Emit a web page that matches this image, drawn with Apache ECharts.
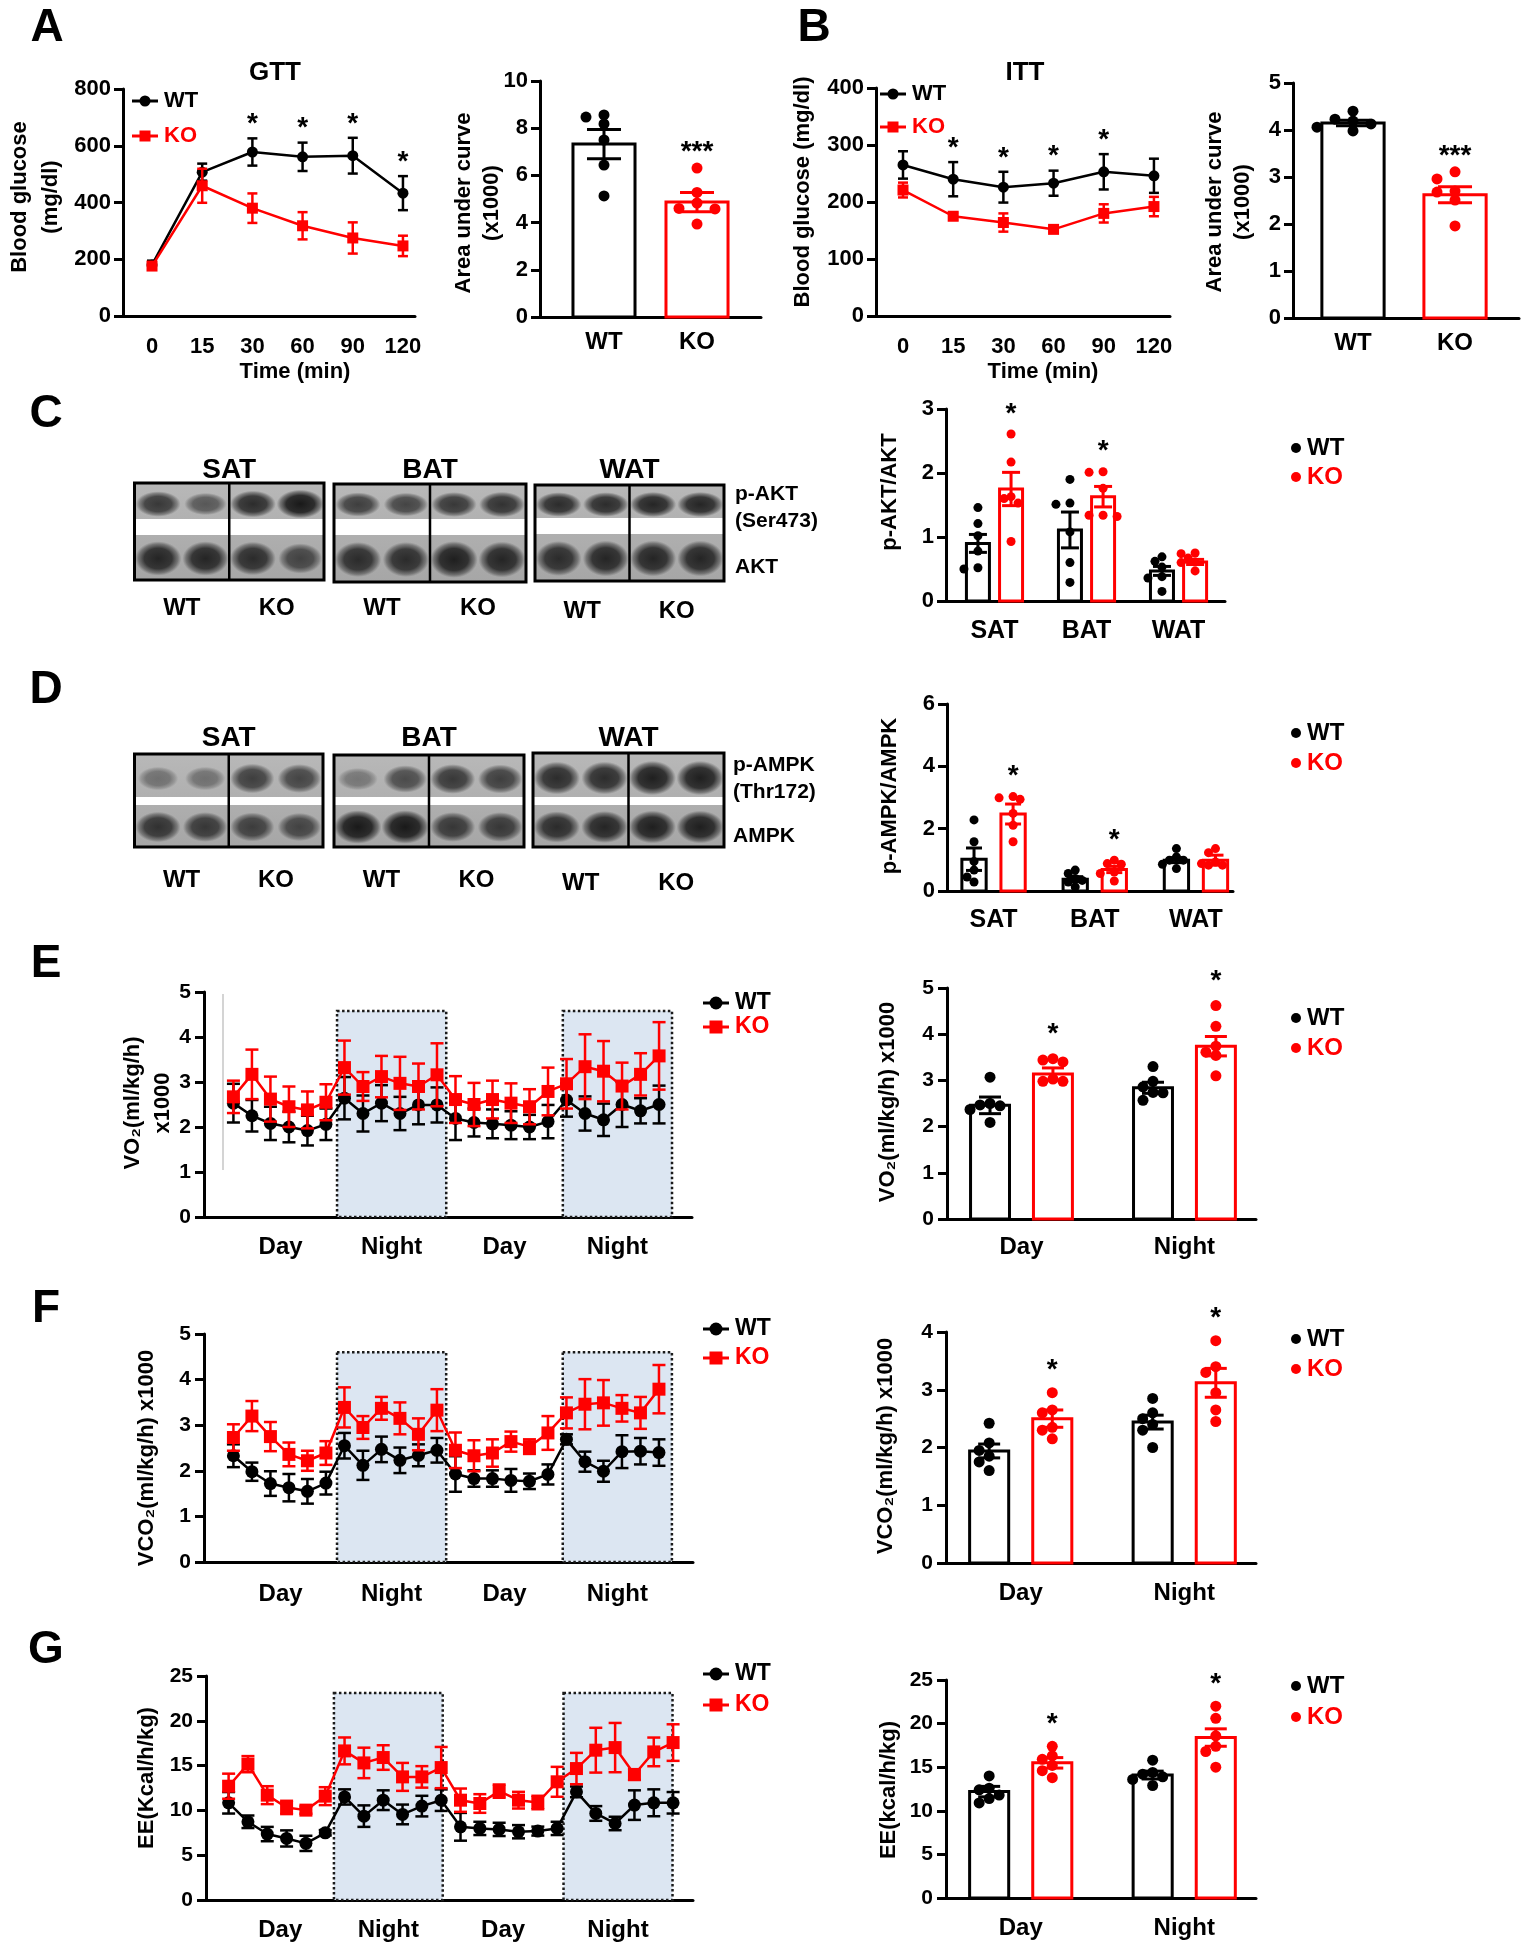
<!DOCTYPE html>
<html>
<head>
<meta charset="utf-8">
<script src="https://cdn.jsdelivr.net/npm/echarts@6/dist/echarts.min.js"></script>
<style>
html, body { margin: 0; padding: 0; background: #fff; }
#chart { width: 1528px; height: 1950px; }
</style>
</head>
<body>
<div id="chart"></div>
<script>
// ---------------- data ----------------
// A: GTT
var timeLabels = ['0', '15', '30', '60', '90', '120'];
var gttWT = [180, 507, 578, 561, 565, 433];
var gttWTsem = [15, 30, 48, 50, 63, 60];
var gttKO = [176, 459, 380, 318, 275, 247];
var gttKOsem = [12, 60, 52, 48, 55, 36];
var gttSig = ['', '', '*', '*', '*', '*'];
var gttAucWT = [8.47, 8.56, 8.18, 7.5, 6.44, 5.13];
var gttAucKO = [6.31, 5.28, 4.83, 4.58, 4.6, 3.94];
var gttAucMean = [7.33, 4.87];
var gttAucSem = [0.62, 0.41];

// B: ITT
var ittWT = [265, 240, 226, 233, 253, 246];
var ittWTsem = [24, 30, 27, 22, 31, 30];
var ittKO = [221, 175, 164, 152, 180, 192];
var ittKOsem = [13, 6, 16, 4, 16, 17];
var ittSig = ['', '*', '*', '*', '*', ''];
var ittAucWT = [4.19, 3.98, 4.23, 4.40, 4.06, 4.13];
var ittAucKO = [3.11, 2.96, 2.70, 2.68, 2.51, 1.96];
var ittAucMean = [4.15, 2.62];
var ittAucSem = [0.06, 0.17];

// C: p-AKT/AKT
var tissues = ['SAT', 'BAT', 'WAT'];
var aktWTmean = [0.90, 1.11, 0.47];
var aktWTsem = [0.14, 0.28, 0.07];
var aktKOmean = [1.75, 1.63, 0.61];
var aktKOsem = [0.26, 0.16, 0.04];
var aktWTpts = [[1.46, 1.21, 1.02, 0.78, 0.50, 0.52], [1.90, 1.53, 1.51, 1.08, 0.60, 0.29], [0.62, 0.69, 0.53, 0.38, 0.36, 0.15]];
var aktKOpts = [[2.61, 2.17, 1.63, 1.53, 0.93, 1.60], [2.01, 2.02, 1.76, 1.32, 1.34, 1.34], [0.74, 0.75, 0.67, 0.61, 0.60, 0.47]];
var aktSig = ['*', '*', ''];
// blot band intensity (0-1), lanes WT WT KO KO
var aktBlotTop = [[0.75, 0.5, 0.85, 1.0], [0.7, 0.65, 0.75, 0.8], [0.85, 0.85, 0.9, 0.9]];
var aktBlotBot = [[0.9, 0.9, 0.85, 0.65], [0.85, 0.85, 0.95, 0.9], [0.85, 0.9, 0.9, 0.9]];

// D: p-AMPK/AMPK
var ampkWTmean = [1.02, 0.38, 0.99];
var ampkWTsem = [0.36, 0.08, 0.08];
var ampkKOmean = [2.47, 0.69, 0.99];
var ampkKOsem = [0.32, 0.10, 0.16];
var ampkWTpts = [[2.28, 1.58, 0.95, 0.67, 0.45, 0.29], [0.56, 0.67, 0.40, 0.34, 0.13, 0.29], [1.36, 1.09, 0.99, 0.99, 0.72, 0.86]];
var ampkKOpts = [[3.03, 2.94, 2.99, 2.49, 2.11, 1.58], [0.99, 0.86, 0.88, 0.56, 0.61, 0.32], [1.36, 1.23, 0.88, 0.83, 0.93, 0.83]];
var ampkSig = ['*', '*', ''];
var ampkBlotTop = [[0.3, 0.3, 0.7, 0.65], [0.25, 0.6, 0.75, 0.7], [0.85, 0.85, 0.95, 0.95]];
var ampkBlotBot = [[0.8, 0.75, 0.7, 0.65], [1.0, 1.0, 0.75, 0.75], [0.85, 0.9, 0.95, 0.95]];

// E-G: time course (24 points), light/dark phases
var phasesEF = [['Day', -0.5, 5.6], ['Night', 5.6, 11.5], ['Day', 11.5, 17.8], ['Night', 17.8, 23.7]];
var phasesG = [['Day', -0.1, 5.45], ['Night', 5.45, 11.08], ['Day', 11.08, 17.33], ['Night', 17.33, 22.97]];
var dayNight = ['Day', 'Night'];

var vo2WT = [2.53, 2.25, 2.08, 2.0, 1.92, 2.06, 2.64, 2.30, 2.53, 2.30, 2.49, 2.49, 2.19, 2.10, 2.07, 2.04, 2.0, 2.12, 2.6, 2.30, 2.16, 2.5, 2.36, 2.5];
var vo2WTsem = [0.43, 0.35, 0.37, 0.34, 0.33, 0.35, 0.47, 0.40, 0.40, 0.37, 0.43, 0.39, 0.48, 0.31, 0.32, 0.31, 0.27, 0.37, 0.37, 0.38, 0.36, 0.5, 0.28, 0.42];
var vo2KO = [2.67, 3.17, 2.62, 2.45, 2.38, 2.55, 3.32, 2.9, 3.12, 2.97, 2.9, 3.16, 2.61, 2.5, 2.61, 2.53, 2.45, 2.79, 2.96, 3.34, 3.24, 2.91, 3.17, 3.58];
var vo2KOsem = [0.36, 0.55, 0.5, 0.45, 0.41, 0.4, 0.6, 0.32, 0.46, 0.59, 0.51, 0.7, 0.52, 0.48, 0.42, 0.44, 0.39, 0.53, 0.55, 0.72, 0.67, 0.52, 0.47, 0.75];
var vo2BarWT = [2.46, 2.84], vo2BarWTsem = [0.18, 0.12];
var vo2BarKO = [3.14, 3.74], vo2BarKOsem = [0.13, 0.21];
var vo2PtsWT = [[3.07, 2.50, 2.47, 2.45, 2.37, 2.09], [3.30, 2.98, 2.86, 2.73, 2.57, 2.74]];
var vo2PtsKO = [[3.40, 3.44, 3.47, 3.03, 2.98, 2.98], [4.62, 4.17, 3.74, 3.61, 3.54, 3.10]];

var vco2WT = [2.33, 1.98, 1.72, 1.63, 1.55, 1.73, 2.55, 2.12, 2.47, 2.23, 2.34, 2.45, 1.93, 1.83, 1.83, 1.79, 1.77, 1.92, 2.69, 2.2, 1.99, 2.42, 2.43, 2.4];
var vco2WTsem = [0.25, 0.2, 0.27, 0.3, 0.27, 0.25, 0.28, 0.32, 0.28, 0.28, 0.24, 0.27, 0.39, 0.18, 0.18, 0.25, 0.17, 0.22, 0.11, 0.22, 0.23, 0.36, 0.29, 0.29];
var vco2KO = [2.73, 3.2, 2.75, 2.36, 2.22, 2.39, 3.39, 2.95, 3.37, 3.15, 2.8, 3.33, 2.45, 2.33, 2.39, 2.64, 2.53, 2.83, 3.27, 3.46, 3.49, 3.37, 3.27, 3.79];
var vco2KOsem = [0.29, 0.33, 0.32, 0.26, 0.22, 0.26, 0.44, 0.25, 0.25, 0.35, 0.35, 0.46, 0.39, 0.34, 0.3, 0.22, 0.16, 0.37, 0.34, 0.55, 0.5, 0.29, 0.35, 0.53];
var vco2BarWT = [1.94, 2.44], vco2BarWTsem = [0.12, 0.12];
var vco2BarKO = [2.50, 3.12], vco2BarKOsem = [0.15, 0.25];
var vco2PtsWT = [[2.42, 2.08, 1.95, 1.85, 1.75, 1.60], [2.85, 2.60, 2.50, 2.40, 2.30, 2.00]];
var vco2PtsKO = [[2.95, 2.65, 2.60, 2.35, 2.30, 2.15], [3.85, 3.40, 3.30, 2.95, 2.65, 2.45]];

var eeWT = [10.85, 8.73, 7.36, 6.87, 6.32, 7.5, 11.5, 9.36, 11.14, 9.55, 10.48, 11.14, 8.17, 7.99, 7.88, 7.62, 7.69, 7.99, 12.07, 9.66, 8.54, 10.59, 10.85, 10.85];
var eeWTsem = [1.2, 0.7, 0.8, 0.9, 0.85, 0.3, 0.85, 1.2, 1.1, 1.1, 1.15, 1.2, 1.55, 0.74, 0.74, 0.74, 0.5, 0.74, 0.6, 0.82, 0.75, 1.65, 1.5, 1.2];
var eeKO = [12.7, 15.16, 11.7, 10.33, 10.03, 11.59, 16.64, 15.3, 15.9, 13.74, 13.74, 14.78, 11.14, 10.77, 12.15, 11.14, 10.88, 13.19, 14.67, 16.72, 17.01, 14.0, 16.53, 17.57];
var eeKOsem = [1.4, 0.9, 1.0, 0.74, 0.4, 1.0, 1.5, 1.7, 1.37, 1.56, 1.2, 2.3, 1.3, 1.04, 0.74, 0.93, 0.75, 1.67, 1.75, 2.5, 2.75, 0.6, 1.6, 2.04];
var eeBarWT = [12.2, 14.1], eeBarWTsem = [0.6, 0.45];
var eeBarKO = [15.5, 18.4], eeBarKOsem = [0.6, 1.0];
var eePtsWT = [[14.0, 12.6, 12.4, 11.8, 11.4, 10.9], [15.8, 14.4, 14.2, 13.9, 13.6, 12.9]];
var eePtsKO = [[17.4, 16.3, 15.9, 15.2, 14.6, 13.8], [22.0, 20.6, 18.6, 17.4, 16.8, 15.0]];

// ---------------- style ----------------
var FONT = "'Liberation Sans', Arial, sans-serif";
var BLK = '#000000', RED = '#ff0000';

var grids = [], xAxes = [], yAxes = [], series = [], graphics = [];

function addGrid(box, xa, ya) {
    var i = grids.length;
    grids.push({ left: box[0], top: box[1], width: box[2], height: box[3], containLabel: false });
    xa.gridIndex = i;
    ya.gridIndex = i;
    xAxes.push(xa);
    yAxes.push(ya);
    return i;
}

function yAxisOf(max, interval, fs, margin) {
    return {
        type: 'value', min: 0, max: max, interval: interval,
        axisLine: { show: true, onZero: false, lineStyle: { color: BLK, width: 3 } },
        axisTick: { show: true, length: 9, lineStyle: { color: BLK, width: 3 } },
        axisLabel: { color: BLK, fontSize: fs, fontWeight: 'bold', fontFamily: FONT, margin: margin },
        splitLine: { show: false }
    };
}

function xAxisOf(min, max, ticks, labels, fs, margin) {
    return {
        type: 'value', min: min, max: max,
        axisLine: { show: true, onZero: false, lineStyle: { color: BLK, width: 3 } },
        axisTick: { show: false },
        splitLine: { show: false },
        axisLabel: {
            color: BLK, fontSize: fs, fontWeight: 'bold', fontFamily: FONT, margin: margin,
            customValues: ticks,
            formatter: function (v) {
                var k = 0, best = 1e9;
                ticks.forEach(function (t, i) { var d = Math.abs(t - v); if (d < best) { best = d; k = i; } });
                return labels[k];
            }
        }
    };
}

function custom(gi, data, render, z) {
    return { type: 'custom', xAxisIndex: gi, yAxisIndex: gi, data: data, renderItem: render, z: z, silent: true, animation: false };
}

function errRender(color, cap, lw) {
    return function (params, api) {
        var x = api.value(0), m = api.value(1), s = api.value(2);
        var a = api.coord([x, m + s]), b = api.coord([x, m - s]), h = cap / 2;
        return {
            type: 'group', children: [
                { type: 'line', shape: { x1: a[0], y1: a[1], x2: b[0], y2: b[1] }, style: { stroke: color, lineWidth: lw } },
                { type: 'line', shape: { x1: a[0] - h, y1: a[1], x2: a[0] + h, y2: a[1] }, style: { stroke: color, lineWidth: lw } },
                { type: 'line', shape: { x1: b[0] - h, y1: b[1], x2: b[0] + h, y2: b[1] }, style: { stroke: color, lineWidth: lw } }
            ]
        };
    };
}

function barRender(color, bw) {
    return function (params, api) {
        var x = api.value(0), v = api.value(1);
        var a = api.coord([x - bw / 2, v]), b = api.coord([x + bw / 2, 0]);
        return { type: 'rect', shape: { x: a[0], y: a[1], width: b[0] - a[0], height: b[1] - a[1] },
            style: { fill: '#fff', stroke: color, lineWidth: 3 } };
    };
}

function dotRender(color, r) {
    return function (params, api) {
        var p = api.coord([api.value(0), api.value(1)]);
        return { type: 'circle', shape: { cx: p[0] + api.value(2), cy: p[1], r: r }, style: { fill: color } };
    };
}

function starRender(labels, gap, fs) {
    return function (params, api) {
        var p = api.coord([api.value(0), api.value(1)]);
        return { type: 'text', x: p[0], y: p[1] - gap,
            style: { text: labels[params.dataIndex], fontSize: fs, fontWeight: 'bold', fontFamily: FONT, fill: BLK, align: 'center', verticalAlign: 'middle' } };
    };
}

function nightRender(top) {
    return function (params, api) {
        var a = api.coord([api.value(0), top]), b = api.coord([api.value(1), 0]);
        return { type: 'rect', shape: { x: a[0], y: a[1], width: b[0] - a[0], height: b[1] - a[1] },
            style: { fill: '#dce6f2', stroke: '#1a1a1a', lineWidth: 2.5, lineDash: [2.5, 2.5] } };
    };
}

// simple beeswarm: horizontal pixel offsets so dots overlap little
function swarm(vals, ppu, d, step) {
    var placed = [], off = [];
    var cands = [0, -1, 1, -2, 2];
    var order = vals.map(function (v, i) { return i; }).sort(function (a, b) { return vals[b] - vals[a]; });
    order.forEach(function (i) {
        var y = vals[i] * ppu, bestX = 0, bestD = -1;
        for (var k = 0; k < cands.length; k++) {
            var x = cands[k] * step, dmin = 1e9;
            placed.forEach(function (p) { dmin = Math.min(dmin, Math.hypot(p[0] - x, p[1] - y)); });
            if (dmin >= d * 0.8) { bestX = x; bestD = 1e9; break; }
            if (dmin > bestD) { bestD = dmin; bestX = x; }
        }
        off[i] = bestX;
        placed.push([bestX, y]);
    });
    return off;
}

function linePanel(o) {
    var gi = addGrid(o.box, xAxisOf(o.xr[0], o.xr[1], o.ticks, o.tickLabels, o.xfs, o.xmargin), yAxisOf(o.ymax, o.yint, o.yfs, o.ymargin));
    var idx = o.wt.map(function (v, i) { return i; });
    if (o.phases) {
        var nights = o.phases.filter(function (p) { return p[0] === 'Night'; }).map(function (p) { return [p[1], p[2]]; });
        series.push(custom(gi, nights, nightRender(o.boxTop), 1));
    }
    [[o.wt, o.wtSem, BLK, 'circle'], [o.ko, o.koSem, RED, 'rect']].forEach(function (s, k) {
        series.push(custom(gi, idx.map(function (i) { return [i, s[0][i], s[1][i]]; }), errRender(s[2], o.cap, 2.5), 3 + k * 2));
        series.push({
            type: 'line', xAxisIndex: gi, yAxisIndex: gi,
            data: idx.map(function (i) { return [i, s[0][i]]; }),
            symbol: s[3], symbolSize: o.sym, showSymbol: true,
            lineStyle: { color: s[2], width: 2.5 }, itemStyle: { color: s[2] },
            z: 4 + k * 2, silent: true, animation: false
        });
    });
    if (o.sig) {
        var sd = [], sl = [];
        o.sig.forEach(function (t, i) {
            if (t) { sd.push([i, Math.max(o.wt[i] + o.wtSem[i], o.ko[i] + o.koSem[i])]); sl.push(t); }
        });
        series.push(custom(gi, sd, starRender(sl, o.starGap, 28), 8));
    }
}

function barPanel(o) {
    var gi = addGrid(o.box, xAxisOf(o.xr[0], o.xr[1], o.ticks, o.tickLabels, o.xfs, o.xmargin), yAxisOf(o.ymax, o.yint, o.yfs, o.ymargin));
    var ppu = o.box[3] / o.ymax;
    var sd = [], sl = [];
    o.sets.forEach(function (s) {
        series.push(custom(gi, s.x.map(function (x, i) { return [x, s.mean[i]]; }), barRender(s.color, o.bw), 2));
        series.push(custom(gi, s.x.map(function (x, i) { return [x, s.mean[i], s.sem[i]]; }), errRender(s.color, o.cap, 3), 3));
        var dots = [];
        s.x.forEach(function (x, i) {
            var off = swarm(s.pts[i], ppu, o.r * 2, o.step);
            s.pts[i].forEach(function (v, j) { dots.push([x, v, off[j]]); });
            if (s.sig && s.sig[i]) {
                sd.push([x, Math.max(s.mean[i] + s.sem[i], Math.max.apply(null, s.pts[i]))]);
                sl.push(s.sig[i]);
            }
        });
        series.push(custom(gi, dots, dotRender(s.color, o.r), 4));
    });
    if (sd.length) series.push(custom(gi, sd, starRender(sl, o.starGap, 28), 5));
}

function phaseTicks(ph) { return ph.map(function (p) { return (p[1] + p[2]) / 2; }); }
function phaseNames(ph) { return ph.map(function (p) { return p[0]; }); }
function shift(n, d) { var a = []; for (var i = 0; i < n; i++) a.push(i + d); return a; }

// ---------------- graphics helpers ----------------
function txt(x, y, s, fs, o) {
    o = o || {};
    var el = {
        type: 'text', x: x, y: y, z: 20, silent: true,
        style: { text: s, fontSize: fs, fontWeight: 'bold', fontFamily: FONT, fill: o.color || BLK,
            align: o.align || 'center', verticalAlign: 'middle', lineHeight: o.lh }
    };
    if (o.rot) el.rotation = Math.PI / 2;
    return el;
}

function lineLegend(cx, y, color, sym, label, size, fs) {
    graphics.push({ type: 'line', z: 20, shape: { x1: cx - 13, y1: y, x2: cx + 13, y2: y }, style: { stroke: color, lineWidth: 3 } });
    if (sym === 'circle') graphics.push({ type: 'circle', z: 21, shape: { cx: cx, cy: y, r: size / 2 }, style: { fill: color } });
    else graphics.push({ type: 'rect', z: 21, shape: { x: cx - size / 2, y: y - size / 2, width: size, height: size }, style: { fill: color } });
    graphics.push(txt(cx + 19, y, label, fs, { color: color, align: 'left' }));
}

function dotLegend(cx, y, color, label) {
    graphics.push({ type: 'circle', z: 21, shape: { cx: cx, cy: y, r: 5 }, style: { fill: color } });
    graphics.push(txt(cx + 11, y, label, 24, { color: color, align: 'left' }));
}

function blot(b, top, bot) {
    var w = b.x1 - b.x0, lw = w / 4;
    graphics.push({ type: 'rect', z: 10, shape: { x: b.x0, y: b.y0, width: w, height: b.y1 - b.y0 },
        style: { fill: { type: 'linear', x: 0, y: 0, x2: 0, y2: 1, colorStops: [{ offset: 0, color: '#b8b8b8' }, { offset: 1, color: '#a6a6a6' }] } } });
    function band(cx, cy, k, hh) {
        var rx = lw * (0.4 + 0.1 * k), ry = hh * (0.22 + 0.18 * k);
        var a = Math.min(1, 0.2 + 0.8 * k);
        graphics.push({ type: 'circle', z: 11, x: cx, y: cy, scaleY: ry / rx, shape: { cx: 0, cy: 0, r: rx },
            style: { fill: { type: 'radial', x: 0.5, y: 0.5, r: 0.5, colorStops: [
                { offset: 0, color: 'rgba(25,25,25,' + a + ')' },
                { offset: 0.6, color: 'rgba(30,30,30,' + (a * 0.9) + ')' },
                { offset: 0.85, color: 'rgba(45,45,45,' + (a * 0.45) + ')' },
                { offset: 1, color: 'rgba(70,70,70,0)' }] } } });
    }
    for (var i = 0; i < 4; i++) {
        var cx = b.x0 + (i + 0.5) * lw;
        band(cx, (b.y0 + b.s0) / 2 + 3, top[i], b.s0 - b.y0);
        band(cx, (b.s1 + b.y1) / 2 + 1, bot[i], b.y1 - b.s1);
    }
    graphics.push({ type: 'rect', z: 12, shape: { x: b.x0, y: b.s0, width: w, height: b.s1 - b.s0 }, style: { fill: '#ffffff' } });
    var mid = (b.x0 + b.x1) / 2;
    graphics.push({ type: 'line', z: 13, shape: { x1: mid, y1: b.y0, x2: mid, y2: b.y1 }, style: { stroke: BLK, lineWidth: 2.5 } });
    graphics.push({ type: 'rect', z: 13, shape: { x: b.x0, y: b.y0, width: w, height: b.y1 - b.y0 }, style: { fill: 'none', stroke: BLK, lineWidth: 3 } });
    graphics.push(txt(mid, b.ty, b.name, 28));
    graphics.push(txt(b.x0 + lw, b.ly, 'WT', 24));
    graphics.push(txt(b.x0 + 3 * lw, b.ly, 'KO', 24));
}

// ---------------- panels ----------------
// A
linePanel({ box: [123, 89, 292, 227], xr: [-0.578, 5.24], ticks: [0, 1, 2, 3, 4, 5], tickLabels: timeLabels, xfs: 22, xmargin: 20,
    ymax: 800, yint: 200, yfs: 22, ymargin: 12, wt: gttWT, wtSem: gttWTsem, ko: gttKO, koSem: gttKOsem, sig: gttSig,
    sym: 11, cap: 10, starGap: 14 });
barPanel({ box: [540, 81, 221, 236], xr: [-0.688, 1.688], ticks: [0, 1], tickLabels: ['WT', 'KO'], xfs: 24, xmargin: 13,
    ymax: 10, yint: 2, yfs: 22, ymargin: 12, bw: 0.667, cap: 34, r: 5.5, step: 18, starGap: 16,
    sets: [{ color: BLK, x: [0], mean: [gttAucMean[0]], sem: [gttAucSem[0]], pts: [gttAucWT] },
           { color: RED, x: [1], mean: [gttAucMean[1]], sem: [gttAucSem[1]], pts: [gttAucKO], sig: ['***'] }] });
// B
linePanel({ box: [876, 88, 294, 228], xr: [-0.538, 5.32], ticks: [0, 1, 2, 3, 4, 5], tickLabels: timeLabels, xfs: 22, xmargin: 20,
    ymax: 400, yint: 100, yfs: 22, ymargin: 12, wt: ittWT, wtSem: ittWTsem, ko: ittKO, koSem: ittKOsem, sig: ittSig,
    sym: 11, cap: 10, starGap: 14 });
barPanel({ box: [1293, 83, 226, 235], xr: [-0.588, 1.627], ticks: [0, 1], tickLabels: ['WT', 'KO'], xfs: 24, xmargin: 13,
    ymax: 5, yint: 1, yfs: 22, ymargin: 12, bw: 0.61, cap: 34, r: 5.5, step: 18, starGap: 16,
    sets: [{ color: BLK, x: [0], mean: [ittAucMean[0]], sem: [ittAucSem[0]], pts: [ittAucWT] },
           { color: RED, x: [1], mean: [ittAucMean[1]], sem: [ittAucSem[1]], pts: [ittAucKO], sig: ['***'] }] });
// C
barPanel({ box: [946, 409, 279, 192], xr: [-0.527, 2.505], ticks: [0, 1, 2], tickLabels: tissues, xfs: 25, xmargin: 18,
    ymax: 3, yint: 1, yfs: 22, ymargin: 12, bw: 0.25, cap: 18, r: 4.5, step: 7, starGap: 20,
    sets: [{ color: BLK, x: shift(3, -0.18), mean: aktWTmean, sem: aktWTsem, pts: aktWTpts },
           { color: RED, x: shift(3, 0.18), mean: aktKOmean, sem: aktKOsem, pts: aktKOpts, sig: aktSig }] });
// D
barPanel({ box: [947, 704, 286, 187], xr: [-0.46, 2.366], ticks: [0, 1, 2], tickLabels: tissues, xfs: 25, xmargin: 17,
    ymax: 6, yint: 2, yfs: 22, ymargin: 12, bw: 0.24, cap: 16, r: 4.5, step: 7, starGap: 20,
    sets: [{ color: BLK, x: shift(3, -0.193), mean: ampkWTmean, sem: ampkWTsem, pts: ampkWTpts },
           { color: RED, x: shift(3, 0.193), mean: ampkKOmean, sem: ampkKOsem, pts: ampkKOpts, sig: ampkSig }] });
// E
linePanel({ box: [204, 992, 488, 225], xr: [-1.59, 24.78], ticks: phaseTicks(phasesEF), tickLabels: phaseNames(phasesEF), xfs: 24, xmargin: 18,
    ymax: 5, yint: 1, yfs: 21, ymargin: 13, wt: vo2WT, wtSem: vo2WTsem, ko: vo2KO, koSem: vo2KOsem,
    sym: 13, cap: 13, phases: phasesEF, boxTop: 4.58 });
barPanel({ box: [947, 988, 309, 231], xr: [-0.457, 1.439], ticks: [0, 1], tickLabels: dayNight, xfs: 24, xmargin: 16,
    ymax: 5, yint: 1, yfs: 21, ymargin: 13, bw: 0.239, cap: 22, r: 5.5, step: 10, starGap: 24,
    sets: [{ color: BLK, x: shift(2, -0.193), mean: vo2BarWT, sem: vo2BarWTsem, pts: vo2PtsWT },
           { color: RED, x: shift(2, 0.193), mean: vo2BarKO, sem: vo2BarKOsem, pts: vo2PtsKO, sig: ['*', '*'] }] });
// F
linePanel({ box: [204, 1334, 489, 228], xr: [-1.59, 24.84], ticks: phaseTicks(phasesEF), tickLabels: phaseNames(phasesEF), xfs: 24, xmargin: 20,
    ymax: 5, yint: 1, yfs: 21, ymargin: 13, wt: vco2WT, wtSem: vco2WTsem, ko: vco2KO, koSem: vco2KOsem,
    sym: 13, cap: 13, phases: phasesEF, boxTop: 4.6 });
barPanel({ box: [946, 1332, 310, 231], xr: [-0.457, 1.439], ticks: [0, 1], tickLabels: dayNight, xfs: 24, xmargin: 18,
    ymax: 4, yint: 1, yfs: 21, ymargin: 13, bw: 0.239, cap: 22, r: 5.5, step: 10, starGap: 22,
    sets: [{ color: BLK, x: shift(2, -0.193), mean: vco2BarWT, sem: vco2BarWTsem, pts: vco2PtsWT },
           { color: RED, x: shift(2, 0.193), mean: vco2BarKO, sem: vco2BarKOsem, pts: vco2PtsKO, sig: ['*', '*'] }] });
// G
linePanel({ box: [206, 1676, 487, 224], xr: [-1.17, 24.03], ticks: phaseTicks(phasesG), tickLabels: phaseNames(phasesG), xfs: 24, xmargin: 18,
    ymax: 25, yint: 5, yfs: 21, ymargin: 13, wt: eeWT, wtSem: eeWTsem, ko: eeKO, koSem: eeKOsem,
    sym: 13, cap: 13, phases: phasesG, boxTop: 23.1 });
barPanel({ box: [946, 1680, 310, 218], xr: [-0.457, 1.439], ticks: [0, 1], tickLabels: dayNight, xfs: 24, xmargin: 18,
    ymax: 25, yint: 5, yfs: 21, ymargin: 13, bw: 0.239, cap: 22, r: 5.5, step: 10, starGap: 22,
    sets: [{ color: BLK, x: shift(2, -0.193), mean: eeBarWT, sem: eeBarWTsem, pts: eePtsWT },
           { color: RED, x: shift(2, 0.193), mean: eeBarKO, sem: eeBarKOsem, pts: eePtsKO, sig: ['*', '*'] }] });

// ---------------- blots ----------------
var aktBoxes = [
    { name: 'SAT', x0: 134.5, x1: 324, y0: 483, y1: 580, s0: 519, s1: 535, ty: 470, ly: 608 },
    { name: 'BAT', x0: 334, x1: 526, y0: 484, y1: 582, s0: 519, s1: 535, ty: 470, ly: 608 },
    { name: 'WAT', x0: 535, x1: 724, y0: 485, y1: 581, s0: 518, s1: 534, ty: 470, ly: 611 }
];
aktBoxes.forEach(function (b, i) { blot(b, aktBlotTop[i], aktBlotBot[i]); });
var ampkBoxes = [
    { name: 'SAT', x0: 134.5, x1: 323, y0: 754, y1: 847, s0: 797, s1: 805, ty: 738, ly: 880 },
    { name: 'BAT', x0: 334, x1: 524, y0: 755, y1: 847, s0: 797, s1: 805, ty: 738, ly: 880 },
    { name: 'WAT', x0: 533, x1: 724, y0: 753, y1: 847, s0: 797, s1: 805, ty: 738, ly: 883 }
];
ampkBoxes.forEach(function (b, i) { blot(b, ampkBlotTop[i], ampkBlotBot[i]); });
graphics.push(txt(735, 494, 'p-AKT', 21, { align: 'left' }));
graphics.push(txt(735, 521, '(Ser473)', 21, { align: 'left' }));
graphics.push(txt(735, 567, 'AKT', 21, { align: 'left' }));
graphics.push(txt(733, 765, 'p-AMPK', 21, { align: 'left' }));
graphics.push(txt(733, 792, '(Thr172)', 21, { align: 'left' }));
graphics.push(txt(733, 836, 'AMPK', 21, { align: 'left' }));

// ---------------- letters, titles, axis names ----------------
[['A', 47, 28], ['B', 814, 28], ['C', 46, 414], ['D', 46, 690], ['E', 46, 964], ['F', 46, 1309], ['G', 46, 1650]].forEach(function (l) {
    graphics.push(txt(l[1], l[2], l[0], 46));
});
graphics.push(txt(275, 73, 'GTT', 26));
graphics.push(txt(1025, 73, 'ITT', 26));
graphics.push(txt(295, 372, 'Time (min)', 22));
graphics.push(txt(1043, 372, 'Time (min)', 22));

graphics.push(txt(35, 197, 'Blood glucose\n(mg/dl)', 22, { rot: true, lh: 31 }));
graphics.push(txt(478, 203, 'Area under curve\n(x1000)', 22, { rot: true, lh: 28 }));
graphics.push(txt(803, 192, 'Blood glucose (mg/dl)', 22, { rot: true }));
graphics.push(txt(1229, 202, 'Area under curve\n(x1000)', 22, { rot: true, lh: 28 }));
graphics.push(txt(890, 492, 'p-AKT/AKT', 22, { rot: true }));
graphics.push(txt(890, 796, 'p-AMPK/AMPK', 22, { rot: true }));
graphics.push(txt(148, 1103, 'VO\u2082(ml/kg/h)\nx1000', 22, { rot: true, lh: 30 }));
graphics.push(txt(888, 1102, 'VO\u2082(ml/kg/h) x1000', 22, { rot: true }));
graphics.push(txt(147, 1458, 'VCO\u2082(ml/kg/h) x1000', 22, { rot: true }));
graphics.push(txt(886, 1446, 'VCO\u2082(ml/kg/h) x1000', 22, { rot: true }));
graphics.push(txt(147, 1778, 'EE(Kcal/h/kg)', 22, { rot: true }));
graphics.push(txt(889, 1790, 'EE(kcal/h/kg)', 22, { rot: true }));

// faint vertical line left in panel E
graphics.push({ type: 'line', z: 0, shape: { x1: 223, y1: 994, x2: 223, y2: 1170 }, style: { stroke: '#d4d4d4', lineWidth: 2 } });

// ---------------- legends ----------------
lineLegend(145, 101, BLK, 'circle', 'WT', 11, 22);
lineLegend(145, 136, RED, 'rect', 'KO', 11, 22);
lineLegend(893, 94, BLK, 'circle', 'WT', 11, 22);
lineLegend(893, 127, RED, 'rect', 'KO', 11, 22);
[[1003, 1027], [1329, 1358], [1674, 1705]].forEach(function (p) {
    lineLegend(716, p[0], BLK, 'circle', 'WT', 13, 23);
    lineLegend(716, p[1], RED, 'rect', 'KO', 13, 23);
});
[[448, 477], [733, 763], [1018, 1048], [1339, 1369], [1686, 1717]].forEach(function (p) {
    dotLegend(1296, p[0], BLK, 'WT');
    dotLegend(1296, p[1], RED, 'KO');
});

var chart = echarts.init(document.getElementById('chart'));
var option = {
    animation: false,
    backgroundColor: '#fff',
    grid: grids,
    xAxis: xAxes,
    yAxis: yAxes,
    series: series,
    graphic: { elements: graphics }
};
chart.setOption(option);
</script>
</body>
</html>
